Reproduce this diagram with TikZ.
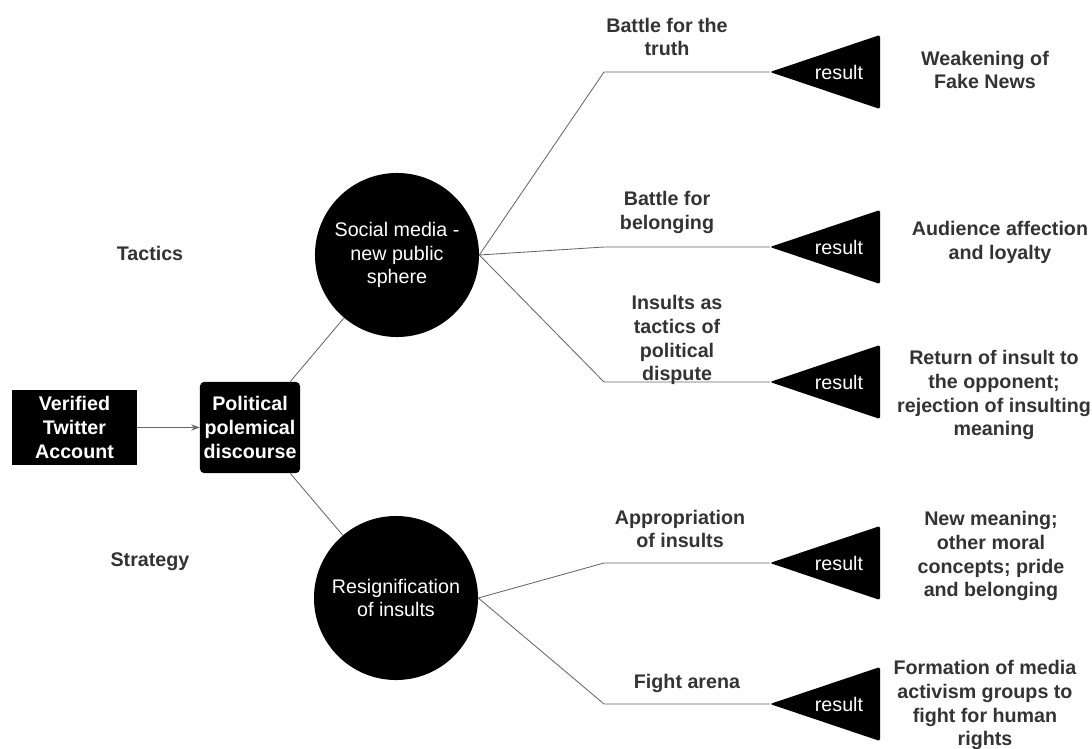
\documentclass[tikz,border=0pt]{standalone}
\usepackage{fontspec}
\setmainfont{Liberation Sans}
\usepackage{xcolor}
\usetikzlibrary{arrows.meta,calc}
\definecolor{labelgray}{HTML}{333333}
\definecolor{linegray}{HTML}{666666}

\begin{document}
\begin{tikzpicture}[x=0.025cm,y=-0.025cm,
  lbl/.style={font=\fontsize{14}{17}\selectfont\bfseries, text=labelgray, align=center, inner sep=0pt},
  box/.style={fill=black, text=white, font=\fontsize{14}{17}\selectfont\bfseries, align=center, inner sep=0pt},
  hub/.style={circle, fill=black, text=white, minimum size=4.1cm, font=\fontsize{14}{17}\selectfont, align=center, inner sep=0pt},
  link/.style={draw=linegray, line width=0.6pt},
  tri/.style={fill=black, rounded corners=1.5pt},
  res/.style={text=white, font=\fontsize{14}{17}\selectfont, inner sep=0pt}]
  \useasboundingbox (0,0) rectangle (1092,749);

  % Source and discourse
  \node[box, minimum width=3.12cm, minimum height=1.88cm] (acct) at (74.5,427.5) {Verified\\Twitter\\Account};
  \node[box, rounded corners=3pt, minimum width=2.5cm, minimum height=2.28cm] (pol) at (250,427.5) {Political\\polemical\\discourse};
  \draw[link, -{Stealth[length=6pt,width=4.5pt]}] (acct.east) -- (pol.west);

  % Tactics and strategy
  \node[hub] (soc) at (397,255) {Social media -\\new public\\sphere};
  \node[hub] (resig) at (396,598) {Resignification\\of insults};
  \draw[link] ([xshift=-0.25cm]pol.north east) -- (soc);
  \draw[link] ([xshift=-0.25cm]pol.south east) -- (resig);
  \node[lbl] (tac) at (150,253) {Tactics};
  \node[lbl] (str) at (150,562) {Strategy};

  % Result triangles
  \foreach \i/\ty in {1/72,2/247,3/382,4/563,5/704} {
    \coordinate (tip\i) at (770,\ty);
    \coordinate (bend\i) at (604,\ty);
    \fill[tri] (tip\i) -- ++(110,-37) -- ++(0,74) -- cycle;
    \node[res] (res\i) at ($(tip\i)+(69,0)$) {result};
  }

  % Branches
  \draw[link] (soc.east) -- (bend1) -- (tip1);
  \draw[link] (soc.east) -- (bend2) -- (tip2);
  \draw[link] (soc.east) -- (bend3) -- (tip3);
  \draw[link] (resig.east) -- (bend4) -- (tip4);
  \draw[link] (resig.east) -- (bend5) -- (tip5);

  % Branch labels
  \node[lbl] (truth) at (667,37) {Battle for the\\truth};
  \node[lbl] (belong) at (667,212) {Battle for\\belonging};
  \node[lbl] (insult) at (677,340) {Insults as\\tactics of\\political\\dispute};
  \node[lbl] (approp) at (680,529) {Appropriation\\of insults};
  \node[lbl] (arena) at (687,683) {Fight arena};

  % Outcomes
  \node[lbl] (out1) at (985,70) {Weakening of\\Fake News};
  \node[lbl] (out2) at (1000,242) {Audience affection\\and loyalty};
  \node[lbl] (out3) at (994,395) {Return of insult to\\the opponent;\\rejection of insulting\\meaning};
  \node[lbl] (out4) at (991,556) {New meaning;\\other moral\\concepts; pride\\and belonging};
  \node[lbl] (out5) at (985,705) {Formation of media\\activism groups to\\fight for human\\rights};
\end{tikzpicture}
\end{document}
